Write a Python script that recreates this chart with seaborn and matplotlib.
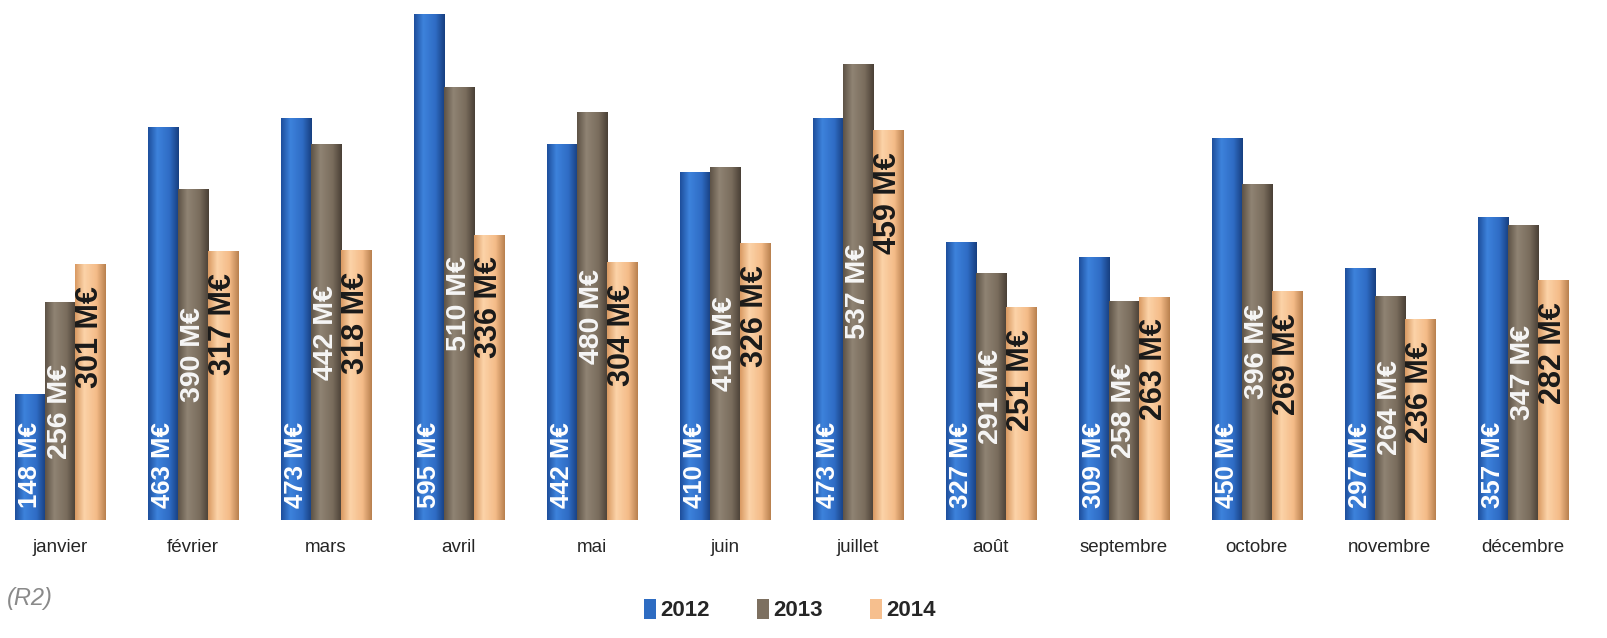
import matplotlib
matplotlib.use("Agg")
import matplotlib.pyplot as plt
import seaborn as sns
import pandas as pd
import numpy as np
from matplotlib.patches import Patch
from matplotlib.colors import LinearSegmentedColormap

months = ["janvier", "février", "mars", "avril", "mai", "juin", "juillet",
          "août", "septembre", "octobre", "novembre", "décembre"]
years = ["2012", "2013", "2014"]
v2012 = [148, 463, 473, 595, 442, 410, 473, 327, 309, 450, 297, 357]
v2013 = [256, 390, 442, 510, 480, 416, 537, 291, 258, 396, 264, 347]
v2014 = [301, 317, 318, 336, 304, 326, 459, 251, 263, 269, 236, 282]
colors = ["#2e6cc2", "#7d7060", "#f6bf8e"]
shades = [["#1e4f9c", "#3d82dc", "#2f6cc4", "#173f80"],
          ["#5e5346", "#8f8373", "#7a6d5d", "#4a4036"],
          ["#d99a62", "#fcd3a8", "#f4bb88", "#b9814f"]]

rows = []
for y, vals in zip(years, [v2012, v2013, v2014]):
    for m, v in zip(months, vals):
        rows.append({"mois": m, "année": y, "valeur": v})
df = pd.DataFrame(rows)

sns.set_theme(style="white")
plt.rcParams["font.family"] = ["Liberation Sans", "DejaVu Sans"]

fig = plt.figure(figsize=(16.08, 6.38), dpi=100)
ax = fig.add_axes([0.0, 118 / 638, 1.0, 520 / 638])

sns.barplot(data=df, x="mois", y="valeur", hue="année", order=months,
            hue_order=years, palette=colors, width=0.68, saturation=1,
            edgecolor="none", linewidth=0, legend=False, ax=ax)

grad = np.linspace(0, 1, 64).reshape(1, -1)
for ci, cont in enumerate(ax.containers):
    cmap = LinearSegmentedColormap.from_list(
        f"c{ci}", list(zip([0, 0.3, 0.7, 1], shades[ci])))
    for bar in cont:
        x0, w, h = bar.get_x(), bar.get_width(), bar.get_height()
        im = ax.imshow(grad, cmap=cmap, aspect="auto",
                       extent=(x0, x0 + w, 0, h), zorder=bar.get_zorder() + 0.1)
        im.set_clip_path(bar)

ax.set_xlim(-0.45, 11.64)
ax.set_ylim(0, 612)
ax.set_yticks([])
ax.set_xlabel("")
ax.set_ylabel("")
for s in ax.spines.values():
    s.set_visible(False)
ax.tick_params(axis="x", length=0, pad=14, labelsize=13.5)

for ci, cont in enumerate(ax.containers):
    for bar, v in zip(cont, [v2012, v2013, v2014][ci]):
        xc = bar.get_x() + bar.get_width() / 2
        lab = f"{v} M€"
        if ci == 0:
            ax.text(xc, 14, lab, rotation=90, ha="center", va="bottom",
                    color="white", fontsize=18.5, fontweight="bold", zorder=5)
        elif ci == 1:
            ax.text(xc, v / 2, lab, rotation=90, ha="center", va="center",
                    color="#f6f6f6", fontsize=20.5, fontweight="bold", zorder=5)
        else:
            ax.text(xc, v - 26, lab, rotation=90, ha="center", va="top",
                    color="#1a1a1a", fontsize=22, fontweight="bold", zorder=5)

fig.text(0.004, 1 - 598 / 638, "(R2)", color="#8a8a8a", fontsize=17,
         fontstyle="italic", ha="left", va="center")

handles = [Patch(facecolor=c, edgecolor="none") for c in colors]
fig.legend(handles, years, loc="center", bbox_to_anchor=(790 / 1608, 1 - 610 / 638),
           ncol=3, frameon=False, handlelength=0.55, handleheight=1.0,
           handletextpad=0.2, columnspacing=2.1,
           prop={"weight": "bold", "size": 16})

fig.savefig("out.png", dpi=100)
